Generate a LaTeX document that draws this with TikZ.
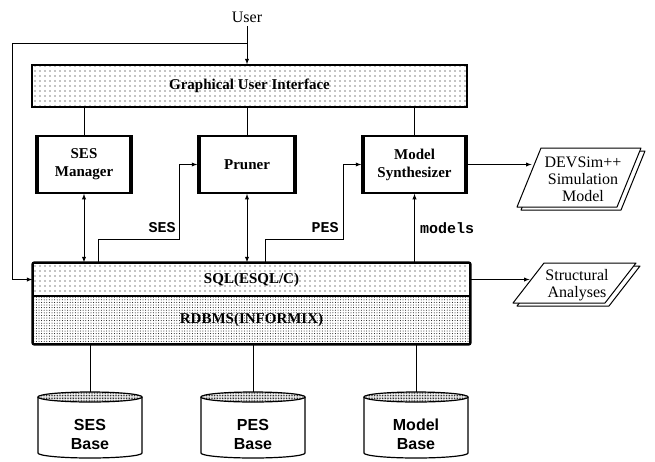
\documentclass[tikz,border=0pt]{standalone}
\usepackage{fontspec}
\setmainfont{Liberation Serif}
\setsansfont{Liberation Sans}
\setmonofont{Liberation Mono}
\usetikzlibrary{patterns.meta}

\begin{document}
\begin{tikzpicture}[x=1pt, y=1pt, >=latex, line width=0.9pt,
      layer/.style={draw, rectangle, line width=1.3pt, minimum width=437pt,
        font=\fontsize{15}{18}\selectfont\bfseries},
      sparse/.style={pattern={Dots[distance=5pt, radius=0.55pt]}},
      dense/.style={pattern={Dots[distance=2.6pt, radius=0.5pt]}},
      proc/.style={draw, rectangle, line width=1.5pt, minimum height=57pt,
        align=center, font=\fontsize{15}{18}\selectfont\bfseries},
      sheet/.style={draw, fill=white, line width=1pt, line join=round},
      doctxt/.style={align=center, font=\fontsize{16}{17}\selectfont, inner sep=0pt},
      tag/.style={font=\ttfamily\bfseries\fontsize{15}{17}\selectfont},
      base/.style={align=center, font=\sffamily\bfseries\fontsize{16}{19}\selectfont},
    ]
      \useasboundingbox (0,0) rectangle (655,-461);
      \node[font=\fontsize{16}{18}\selectfont] (user) at (247,-17) {User};
      \coordinate (split) at (247,-43);
      \node[layer, sparse, minimum width=435pt, minimum height=42pt] (gui) at (249.5,-86) {Graphical User Interface};
      \node[proc, minimum width=96pt] (sesm) at (84,-164.5) {SES\\Manager};
      \node[proc, minimum width=98pt] (pru) at (247,-164.5) {Pruner};
      \node[proc, minimum width=105pt] (syn) at (414.5,-164.5) {Model\\Synthesizer};
      \node[layer, sparse, minimum height=33pt] (sql) at (251.5,-279.5) {SQL(ESQL/C)};
      \node[layer, dense, minimum height=48pt] (rdb) at (251.5,-320) {RDBMS(INFORMIX)};
      \draw[line width=2pt, rounded corners=2pt] (sql.north west) rectangle (rdb.south east);
      % output sheets, one behind the other
      \draw[sheet] (521,-210) -- (545,-151) -- (645,-151) -- (621,-210) -- cycle;
      \draw[sheet] (517,-207) -- (541,-148) -- (641,-148) -- (617,-207) -- cycle;
      \node[doctxt, minimum width=102pt] (devs) at (583,-179) {DEVSim++\\Simulation\\Model};
      \draw[sheet] (517,-306) -- (548,-266) -- (640,-266) -- (609,-306) -- cycle;
      \draw[sheet] (513,-303) -- (544,-263) -- (636,-263) -- (605,-303) -- cycle;
      \node[doctxt, minimum width=94pt] (stru) at (577,-285) {Structural\\Analyses};
      \node[tag] (seslbl) at (162,-228) {SES};
      \node[tag] (peslbl) at (325,-228) {PES};
      \node[tag] (modlbl) at (447,-228) {models};
      % thick sides of the process boxes
      \foreach \n in {sesm, pru, syn} {
        \draw[line width=4pt] ([xshift=2pt]\n.north west) -- ([xshift=2pt]\n.south west);
        \draw[line width=4pt] ([xshift=-2pt]\n.north east) -- ([xshift=-2pt]\n.south east);
      }
      % data bases
      \foreach \n/\x/\t in {sesb/90/SES, pesb/253/PES, modb/416/Model} {
        \draw[line width=1.2pt, fill=white] (\x-52,-397) -- (\x-52,-453)
          arc[start angle=180, end angle=360, x radius=52pt, y radius=5pt] -- (\x+52,-397);
        \draw[line width=1.2pt, pattern={Dots[distance=1.6pt, radius=0.5pt]}]
          (\x,-397) ellipse[x radius=52pt, y radius=5pt];
        \coordinate (\n) at (\x,-392);
        \node[base] (\n txt) at (\x,-434) {\t\\Base};
      }
      \draw[->] (user) -- (user |- gui.north);
      \draw[->] (split) -| ([xshift=-20pt]sql.west) -- (sql.west);
      \draw (sesm.north |- gui.south) -- (sesm.north);
      \draw (pru.north |- gui.south) -- (pru.north);
      \draw (syn.north |- gui.south) -- (syn.north);
      \draw[<->] (sesm) -- (sesm |- sql.north);
      \draw[<->] (pru) -- (pru |- sql.north);
      \draw[->] (syn |- sql.north) -- (syn);
      \draw[->] ([xshift=66pt]sql.north west) -- ++(0,23) -| ([xshift=-18pt]pru.west) -- (pru.west);
      \draw[->] ([xshift=233pt]sql.north west) -- ++(0,23) -| ([xshift=-18pt]syn.west) -- (syn.west);
      \draw[->] (syn.east) -- (syn.east -| devs.west);
      \draw[->] (sql.east) -- (sql.east -| stru.west);
      \draw (rdb.south -| sesb) -- (sesb);
      \draw (rdb.south -| pesb) -- (pesb);
      \draw (rdb.south -| modb) -- (modb);
    \end{tikzpicture}
\end{document}
